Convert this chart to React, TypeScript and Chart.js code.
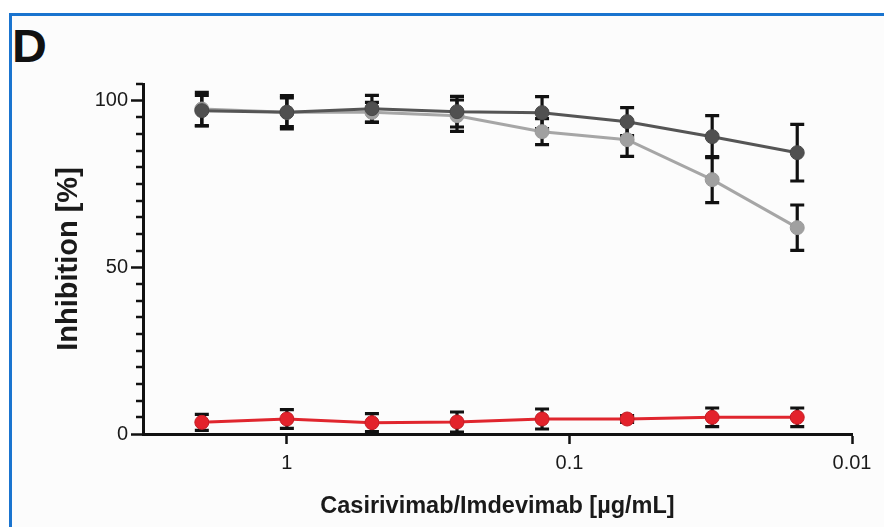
import React, { useEffect, useRef } from "react";
import { Chart, registerables } from "chart.js";

Chart.register(...registerables);

// Concentrations (µg/mL)
const concentrations = [2, 1, 0.5, 0.25, 0.125, 0.0625, 0.03125, 0.015625];

// Dark grey series
const darkMean = [97, 96.5, 97.6, 96.7, 96.4, 93.7, 89.2, 84.4];
const darkErr = [4.6, 4.3, 4, 4.6, 4.8, 4.2, 6.3, 8.5];

// Light grey series
const lightMean = [97.5, 96.5, 96.5, 95.5, 90.7, 88.3, 76.3, 61.9];
const lightErr = [5, 5, 3, 4.7, 3.9, 5, 6.9, 6.8];

// Red series
const redMean = [3.5, 4.5, 3.4, 3.6, 4.5, 4.5, 5, 5];
const redErr = [2.4, 2.8, 2.7, 3, 3, 1, 2.8, 2.8];

const xTickValues = [0.01, 0.1, 1];
const yTickValues = [0, 50, 100];
const yMinorStep = 5;

const FONT = "'Liberation Sans', Arial, Helvetica, sans-serif";

export default function App() {
  const ref = useRef<HTMLCanvasElement>(null);

  useEffect(() => {
    const canvas = ref.current;
    if (!canvas) return;

    const errSets = [darkErr, lightErr, redErr];

    const errorBars = {
      id: "errorBars",
      beforeDatasetsDraw(chart: any) {
        const { ctx } = chart;
        const xs = chart.scales.x;
        const ys = chart.scales.y;
        ctx.save();
        ctx.strokeStyle = "#111";
        ctx.lineWidth = 3.2;
        ctx.lineCap = "butt";
        chart.data.datasets.forEach((ds: any, di: number) => {
          const errs = errSets[di];
          ds.data.forEach((p: any, i: number) => {
            const e = errs[i];
            const px = xs.getPixelForValue(p.x);
            const top = ys.getPixelForValue(p.y + e);
            const bot = ys.getPixelForValue(p.y - e);
            ctx.beginPath();
            ctx.moveTo(px, top);
            ctx.lineTo(px, bot);
            ctx.moveTo(px - 7, top);
            ctx.lineTo(px + 7, top);
            ctx.moveTo(px - 7, bot);
            ctx.lineTo(px + 7, bot);
            ctx.stroke();
          });
        });
        ctx.restore();
      },
    };

    const minorTicks = {
      id: "minorTicks",
      afterDraw(chart: any) {
        const { ctx } = chart;
        const ys = chart.scales.y;
        const left = chart.chartArea.left;
        ctx.save();
        ctx.strokeStyle = "#111";
        ctx.lineWidth = 2.5;
        for (let v = yMinorStep; v <= ys.max + 0.001; v += yMinorStep) {
          if (yTickValues.includes(v)) continue;
          const py = Math.round(ys.getPixelForValue(v));
          ctx.beginPath();
          ctx.moveTo(left - 7, py);
          ctx.lineTo(left, py);
          ctx.stroke();
        }
        ctx.restore();
      },
    };

    const mk = (vals: number[]) => concentrations.map((c, i) => ({ x: c, y: vals[i] }));

    const chart = new Chart(canvas, {
      type: "line",
      data: {
        datasets: [
          {
            label: "dark",
            data: mk(darkMean),
            borderColor: "#555555",
            backgroundColor: "#505050",
            pointBackgroundColor: "#505050",
            pointBorderColor: "#484848",
            borderWidth: 3,
            pointRadius: 7,
            pointBorderWidth: 1,
          },
          {
            label: "light",
            data: mk(lightMean),
            borderColor: "#a6a6a6",
            backgroundColor: "#a0a0a0",
            pointBackgroundColor: "#a0a0a0",
            pointBorderColor: "#999999",
            borderWidth: 3,
            pointRadius: 7,
            pointBorderWidth: 1,
          },
          {
            label: "red",
            data: mk(redMean),
            borderColor: "#e0262e",
            backgroundColor: "#e3222b",
            pointBackgroundColor: "#e3222b",
            pointBorderColor: "#c41c24",
            borderWidth: 3,
            pointRadius: 7,
            pointBorderWidth: 1,
          },
        ],
      },
      options: {
        animation: false,
        responsive: false,
        devicePixelRatio: 1,
        layout: { padding: { left: 40, right: 32, top: 84, bottom: 5 } },
        plugins: {
          legend: { display: false },
          tooltip: { enabled: false },
        },
        scales: {
          x: {
            type: "logarithmic",
            reverse: true,
            min: 0.01,
            max: 3.23,
            afterBuildTicks: (s: any) => {
              s.ticks = xTickValues.map((v) => ({ value: v, major: true }));
            },
            afterFit: (s: any) => {
              s.height = 527 - 5 - 434;
            },
            ticks: {
              autoSkip: false,
              maxRotation: 0,
              padding: 7,
              color: "#1a1a1a",
              font: { family: FONT, size: 20 },
              callback: (v: any) => String(v),
            },
            grid: {
              display: true,
              drawOnChartArea: false,
              drawTicks: true,
              tickLength: 10,
              tickWidth: 2.5,
              tickColor: "#111",
            },
            border: { display: true, color: "#111", width: 3 },
            title: {
              display: true,
              text: "Casirivimab/Imdevimab [µg/mL]",
              color: "#1a1a1a",
              font: { family: FONT, size: 23.5, weight: "bold" },
              padding: { top: 0, bottom: 1 },
            },
          },
          y: {
            type: "linear",
            min: 0,
            max: 105,
            afterBuildTicks: (s: any) => {
              s.ticks = yTickValues.map((v) => ({ value: v }));
            },
            afterFit: (s: any) => {
              s.width = 143 - 40;
            },
            ticks: {
              padding: 3,
              color: "#1a1a1a",
              font: { family: FONT, size: 20 },
            },
            grid: {
              display: true,
              drawOnChartArea: false,
              drawTicks: true,
              tickLength: 12,
              tickWidth: 2.5,
              tickColor: "#111",
            },
            border: { display: true, color: "#111", width: 3 },
            title: {
              display: true,
              text: "Inhibition [%]",
              color: "#1a1a1a",
              font: { family: FONT, size: 29, weight: "bold" },
              padding: { top: 12, bottom: 0 },
            },
          },
        },
      },
      plugins: [errorBars, minorTicks],
    } as any);

    return () => chart.destroy();
  }, []);

  return (
    <div
      style={{
        position: "fixed",
        left: 0,
        top: 0,
        width: 884,
        height: 527,
        background: "#ffffff",
        overflow: "hidden",
      }}
    >
      <div
        style={{
          position: "absolute",
          left: 9,
          top: 13,
          right: 0,
          bottom: 0,
          borderLeft: "3px solid #1a74cf",
          borderTop: "3px solid #1a74cf",
          background: "#fcfcfc",
        }}
      />
      <div
        style={{
          position: "absolute",
          left: 12,
          top: 23,
          fontFamily: FONT,
          fontWeight: "bold",
          fontSize: 46,
          lineHeight: "46px",
          color: "#111",
          transform: "scaleX(1.05)",
          transformOrigin: "left top",
        }}
      >
        D
      </div>
      <canvas
        ref={ref}
        width={884}
        height={527}
        style={{ position: "absolute", left: 0, top: 0, width: 884, height: 527 }}
      />
    </div>
  );
}
